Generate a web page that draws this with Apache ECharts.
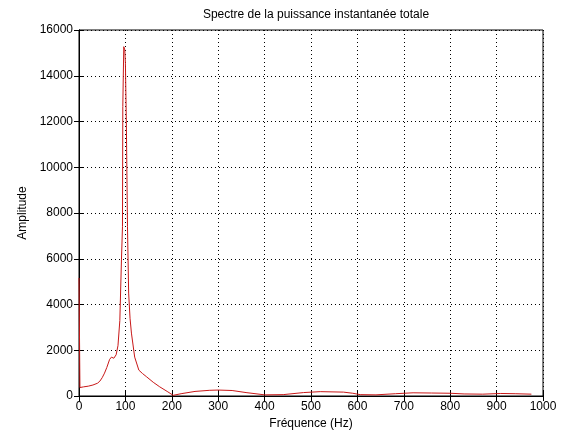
<!DOCTYPE html>
<html><head><meta charset="utf-8">
<script src="https://cdn.jsdelivr.net/npm/echarts@6/dist/echarts.min.js"></script>
<style>html,body{margin:0;padding:0;background:#fff}#c{width:561px;height:439px}</style>
</head><body><div id="c"></div>
<script>
var titleText = 'Spectre de la puissance instantanée totale';
var xName = 'Fréquence (Hz)';
var yName = 'Amplitude';
var freq = [0, 2, 10, 20, 30, 40, 45, 50, 55, 60, 66, 70, 73, 75, 77, 80, 84, 88, 91.5, 93.7, 94.4, 96.5, 98.7, 100, 102, 104.5, 107, 110, 113, 120, 129, 137, 145, 160, 174, 190, 203, 220, 250, 282, 300, 330, 360, 400, 440, 484, 520, 570, 590, 606, 640, 682, 720, 760, 800, 830, 870, 909, 940, 975];
var amplitude = [5160, 370, 400, 430, 480, 560, 650, 800, 1000, 1250, 1600, 1700, 1780, 1650, 1580, 1800, 2200, 3300, 5950, 7400, 12650, 15270, 15130, 14550, 12060, 7400, 4500, 3400, 2750, 1700, 1130, 980, 850, 600, 400, 200, 30, 100, 200, 250, 260, 240, 150, 50, 60, 150, 190, 170, 120, 60, 50, 100, 140, 130, 120, 90, 80, 110, 100, 80];

var data = freq.map(function(f, i){ return [f, amplitude[i]]; });
var font = 'Liberation Sans, Arial, sans-serif';
var plain = function(v){ return String(v); };
var chart = echarts.init(document.getElementById('c'));
var split = {show: true, lineStyle: {color: '#000', type: [1, 3], width: 1}};
chart.setOption({
  animation: false,
  title: {text: titleText, left: 311, top: 4, textAlign: 'center',
    textStyle: {fontFamily: font, fontSize: 12, fontWeight: 'normal', color: '#000'}},
  grid: {left: 79, right: 18, top: 30, bottom: 43, show: true, borderColor: '#000', borderWidth: 1},
  xAxis: [{
    type: 'value', min: 0, max: 1000, interval: 100, position: 'bottom',
    name: xName, nameLocation: 'middle', nameGap: 22,
    nameTextStyle: {fontFamily: font, fontSize: 12, color: '#000'},
    axisLine: {show: true, lineStyle: {color: '#000'}},
    axisTick: {show: true, inside: true, length: 5, lineStyle: {color: '#000'}},
    axisLabel: {fontFamily: font, fontSize: 12, color: '#000', margin: 5, formatter: plain},
    splitLine: split
  }, {
    type: 'value', min: 0, max: 1000, interval: 100, position: 'top',
    axisLine: {show: true, lineStyle: {color: '#000'}},
    axisTick: {show: true, inside: true, length: 5, lineStyle: {color: '#000'}},
    axisLabel: {show: false}, splitLine: {show: false}
  }],
  yAxis: [{
    type: 'value', min: 0, max: 16000, interval: 2000, position: 'left',
    name: yName, nameLocation: 'middle', nameGap: 48, nameRotate: 90,
    nameTextStyle: {fontFamily: font, fontSize: 12, color: '#000'},
    axisLine: {show: true, lineStyle: {color: '#000'}},
    axisTick: {show: true, inside: true, length: 5, lineStyle: {color: '#000'}},
    axisLabel: {fontFamily: font, fontSize: 12, color: '#000', margin: 6, formatter: plain},
    splitLine: split
  }, {
    type: 'value', min: 0, max: 16000, interval: 2000, position: 'right',
    axisLine: {show: true, lineStyle: {color: '#000'}},
    axisTick: {show: true, inside: true, length: 5, lineStyle: {color: '#000'}},
    axisLabel: {show: false}, splitLine: {show: false}
  }],
  series: [{
    type: 'line', data: data, showSymbol: false, symbol: 'none',
    lineStyle: {color: '#c81818', width: 1}, xAxisIndex: 0, yAxisIndex: 0
  }]
});
</script></body></html>
